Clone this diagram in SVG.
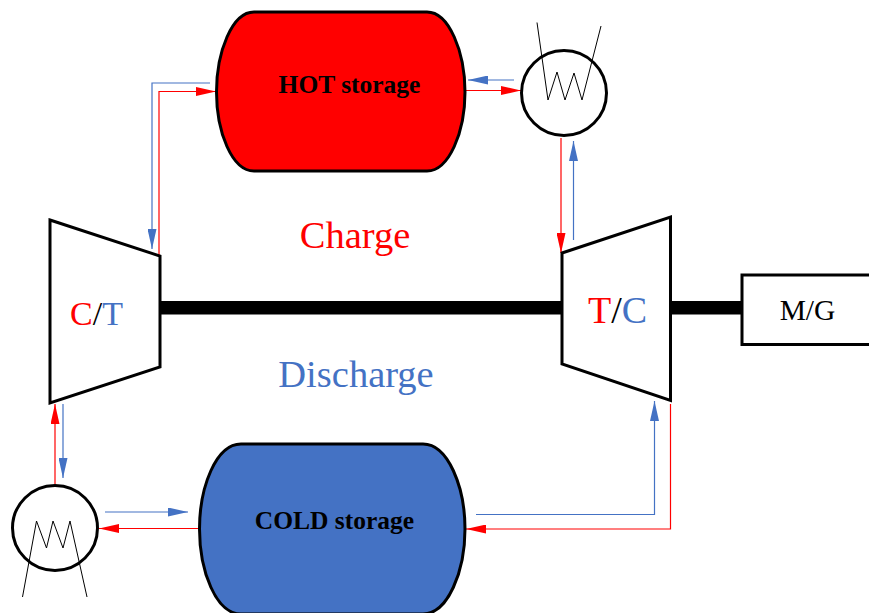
<svg xmlns="http://www.w3.org/2000/svg" width="869" height="613" viewBox="0 0 869 613">
<style>
.o{stroke:#000;stroke-width:3;fill:#fff;stroke-linejoin:miter}
.z{stroke:#000;stroke-width:1;fill:none}
.r{stroke:#f00;stroke-width:1.2;fill:none}
.b{stroke:#4472c4;stroke-width:1.2;fill:none}
text{font-family:"Liberation Serif","Times New Roman",serif}
.u{font-size:38.500px}
.s{font-size:25.500px;font-weight:bold;fill:#000}
</style>
<defs>
<marker id="ar" markerUnits="userSpaceOnUse" markerWidth="21" markerHeight="9" refX="20" refY="4.5" orient="auto"><path d="M0 0L20 4.5L0 9Z" fill="#f00"/></marker>
<marker id="ab" markerUnits="userSpaceOnUse" markerWidth="21" markerHeight="9" refX="20" refY="4.5" orient="auto"><path d="M0 0L20 4.5L0 9Z" fill="#4472c4"/></marker>
</defs>
<g id="shafts">
<rect x="160" y="301" width="402" height="13.500" fill="#000"/>
<rect x="670" y="301" width="72" height="13.500" fill="#000"/>
</g>
<g id="connectors">
<path class="b" d="M210 83H152V249" marker-end="url(#ab)"/>
<path class="r" d="M159 255V91.500H216" marker-end="url(#ar)"/>
<path class="b" d="M514 80H468" marker-end="url(#ab)"/>
<path class="r" d="M465 90.500H521" marker-end="url(#ar)"/>
<path class="r" d="M561 138V253" marker-end="url(#ar)"/>
<path class="b" d="M573.500 240V141" marker-end="url(#ab)"/>
<path class="r" d="M55 484V404" marker-end="url(#ar)"/>
<path class="b" d="M63 404V478" marker-end="url(#ab)"/>
<path class="b" d="M105 512H188" marker-end="url(#ab)"/>
<path class="r" d="M199 528.500H99" marker-end="url(#ar)"/>
<path class="b" d="M476 514.500H654.500V401" marker-end="url(#ab)"/>
<path class="r" d="M670.500 404V529H466" marker-end="url(#ar)"/>
</g>
<g id="hot-storage">
<path d="M254 12H427C449 12 465 52 465 92C465 132 449 171 427 171H254C232 171 216.500 132 216.500 92C216.500 52 232 12 254 12Z" fill="#f00" stroke="#000" stroke-width="3"/>
<text class="s" x="349.500" y="93" text-anchor="middle">HOT storage</text>
</g>
<g id="cold-storage">
<path d="M241 444H423C448 444 465 487 465 529C465 571 448 614 423 614H241C216 614 199.500 571 199.500 529C199.500 487 216 444 241 444Z" fill="#4472c4" stroke="#000" stroke-width="3"/>
<text class="s" x="334.500" y="529" text-anchor="middle">COLD storage</text>
</g>
<g id="heat-exchanger-hot">
<circle cx="564" cy="93" r="42.500" class="o"/>
<path class="z" d="M537 22.500L548 100L557 72L565 100L574 73L582 100L601 26"/>
</g>
<g id="heat-exchanger-cold">
<circle cx="55" cy="528" r="42.500" class="o"/>
<path class="z" d="M22.500 597L36.500 521L46.500 548L53 521L63 548L70 521L87 597"/>
</g>
<g id="ct">
<path class="o" d="M50 220L160 256V367L50 403Z"/>
<text x="70" y="325" font-size="34"><tspan fill="#f00">C</tspan><tspan fill="#000">/</tspan><tspan fill="#4472c4">T</tspan></text>
</g>
<g id="tc">
<path class="o" d="M562 253L670.500 217V400.500L562 364Z"/>
<text x="588" y="323" font-size="38"><tspan fill="#f00">T</tspan><tspan fill="#000">/</tspan><tspan fill="#4472c4">C</tspan></text>
</g>
<g id="mg">
<rect x="742" y="275" width="129" height="69.500" class="o"/>
<text x="807.500" y="320" text-anchor="middle" font-size="29.500" fill="#000">M/G</text>
</g>
<text class="u" x="355" y="248" text-anchor="middle" fill="#f00">Charge</text>
<text class="u" x="356" y="387" text-anchor="middle" fill="#4472c4">Discharge</text>
</svg>
